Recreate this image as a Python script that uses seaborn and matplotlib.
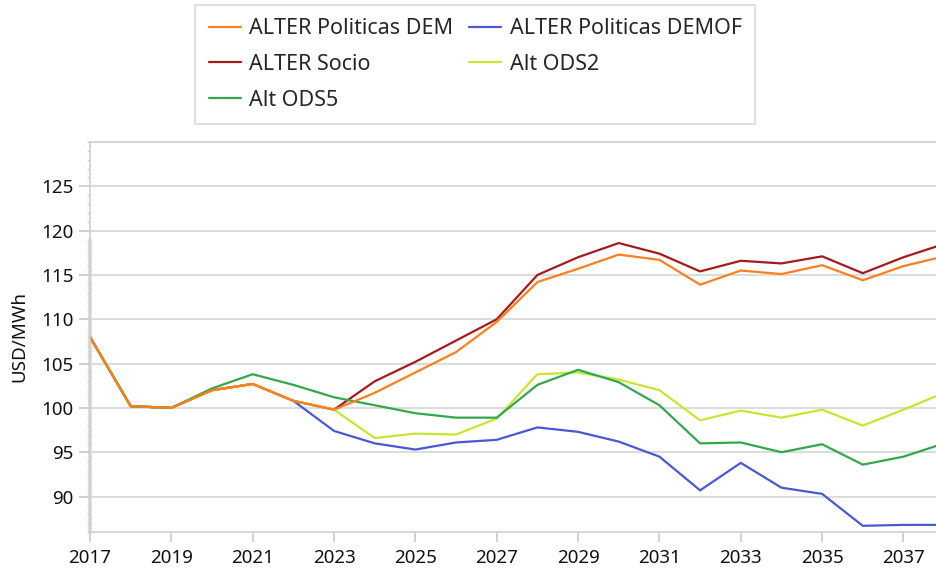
import numpy as np
import pandas as pd
import matplotlib.pyplot as plt
import seaborn as sns
from matplotlib.ticker import MultipleLocator

years = list(range(2017, 2039))

dem = [108.0, 100.2, 100.0, 102.0, 102.7, 100.8, 99.8, 101.7, 104.0, 106.3, 109.7,
       114.2, 115.7, 117.3, 116.7, 113.9, 115.5, 115.1, 116.1, 114.4, 116.0, 117.1]
demof = [108.0, 100.2, 100.0, 102.0, 102.7, 100.8, 97.4, 96.0, 95.3, 96.1, 96.4,
         97.8, 97.3, 96.2, 94.5, 90.7, 93.8, 91.0, 90.3, 86.7, 86.8, 86.8]
socio = [108.0, 100.2, 100.0, 102.0, 102.7, 100.8, 99.8, 103.0, 105.2, 107.6, 110.0,
         115.0, 117.0, 118.6, 117.4, 115.4, 116.6, 116.3, 117.1, 115.2, 117.0, 118.5]
ods2 = [108.0, 100.2, 100.0, 102.0, 102.7, 100.8, 99.8, 96.6, 97.1, 97.0, 98.8,
        103.8, 104.0, 103.2, 102.0, 98.6, 99.7, 98.9, 99.8, 98.0, 99.8, 101.7]
ods5 = [108.0, 100.2, 100.0, 102.2, 103.8, 102.6, 101.2, 100.3, 99.4, 98.9, 98.9,
        102.6, 104.3, 102.9, 100.3, 96.0, 96.1, 95.0, 95.9, 93.6, 94.5, 96.0]

series = {
    "ALTER Politicas DEMOF": demof,
    "ALTER Socio": socio,
    "Alt ODS2": ods2,
    "Alt ODS5": ods5,
    "ALTER Politicas DEM": dem,
}
colors = {
    "ALTER Politicas DEM": "#ff7f1e",
    "ALTER Politicas DEMOF": "#4759d4",
    "ALTER Socio": "#a51b1b",
    "Alt ODS2": "#c6e630",
    "Alt ODS5": "#33a84a",
}
legend_order = ["ALTER Politicas DEM", "ALTER Socio", "Alt ODS5",
                "ALTER Politicas DEMOF", "Alt ODS2"]

df = pd.DataFrame([
    {"year": y, "value": v, "scenario": name}
    for name, vals in series.items()
    for y, v in zip(years, vals)
])

sns.set_style("white")
plt.rcParams["font.family"] = ["Noto Sans", "DejaVu Sans"]

fig = plt.figure(figsize=(9.36, 5.70), dpi=100)
ax = fig.add_axes([90 / 936, 1 - 532 / 570, 1 - 90 / 936, (532 - 142) / 570])

sns.lineplot(data=df, x="year", y="value", hue="scenario",
             hue_order=list(series.keys()), palette=colors,
             linewidth=1.6, ax=ax, legend=False)

ax.set_xlim(2017, 2037.8)
ax.set_ylim(86, 130)
ax.set_xticks(range(2017, 2038, 2))
ax.set_yticks(range(90, 126, 5))
ax.yaxis.set_minor_locator(MultipleLocator(1))
ax.yaxis.grid(True, color="#d9d9d9", linewidth=1.3)
ax.set_axisbelow(True)

ax.tick_params(axis="both", labelsize=13.5, colors="#c8c8c8", labelcolor="#111111")
ax.tick_params(axis="y", which="major", length=8, width=1.2, left=True, pad=4)
ax.tick_params(axis="y", which="minor", length=2, width=1, left=True, colors="#d0d0d0")
ax.tick_params(axis="x", which="major", length=7, width=1.2, bottom=True, pad=5)

for side in ["left", "bottom", "top"]:
    ax.spines[side].set_color("#d0d0d0")
    ax.spines[side].set_linewidth(1.2)
ax.spines["right"].set_visible(False)

# data range bar along the left axis
ax.axvline(2017, ymin=0, ymax=(119.0 - 86) / 44, color="#dedede",
           linewidth=3, zorder=0.5, clip_on=False)

ax.set_xlabel("")
ax.set_ylabel("USD/MWh", fontsize=13.5, color="#111111", labelpad=9)

handles = [plt.Line2D([], [], color=colors[n], linewidth=1.6) for n in legend_order]
leg = fig.legend(handles, legend_order, loc="upper center",
                 bbox_to_anchor=(475 / 936, 1 - 5 / 570), ncol=2,
                 fontsize=15.5, frameon=True, fancybox=False,
                 handlelength=1.5, handletextpad=0.4, columnspacing=0.7,
                 labelspacing=0.68, borderpad=0.62, borderaxespad=0)
leg.get_frame().set_edgecolor("#d0d0d0")
leg.get_frame().set_linewidth(1.2)

fig.savefig("out.png", dpi=100)
